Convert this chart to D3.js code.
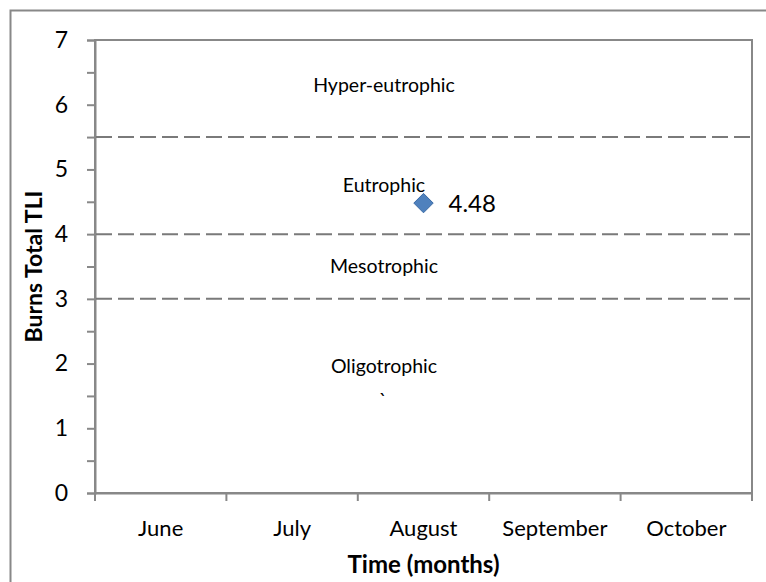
<!DOCTYPE html>
<html>
<head>
<meta charset="utf-8">
<script src="https://cdn.jsdelivr.net/npm/d3@7"></script>
<style>
  body { margin: 0; background: #fff; }
  text { font-family: Lato, "Open Sans", sans-serif; fill: #000; }
</style>
</head>
<body>
<script>
let months = ["June", "July", "August", "September", "October"]
let tliMonths = ["August"]
let tliValues = [4.48]
let bands = [5.5, 4, 3]
let bandNames = ["Hyper-eutrophic", "Eutrophic", "Mesotrophic", "Oligotrophic"]
let bandLabelY = [6.2, 4.65, 3.4, 1.85]

let svg = d3.select("body")
    .append("svg")
    .attr("width", 766)
    .attr("height", 582)

// outer chart border (right and bottom fall off the picture)
svg.append("rect")
    .attr("x", 10.5).attr("y", 10.5)
    .attr("width", 800).attr("height", 600)
    .attr("fill", "none")
    .attr("stroke", "#888").attr("stroke-width", 2)

let plotL = 95, plotR = 752, plotT = 40, plotB = 493

let x = d3.scaleBand().domain(months).range([plotL, plotR])
let y = d3.scaleLinear().domain([0, 7]).range([plotB, plotT])

// plot frame
svg.append("rect")
    .attr("x", plotL).attr("y", plotT)
    .attr("width", plotR - plotL).attr("height", plotB - plotT)
    .attr("fill", "none")
    .attr("stroke", "#888").attr("stroke-width", 2)

// y axis
let yAxis = svg.append("g")
    .attr("transform", `translate(${plotL},0)`)
    .call(d3.axisLeft(y).tickValues(d3.range(0, 7.01, 0.5)).tickSize(8).tickPadding(19)
        .tickFormat(d => Number.isInteger(d) ? d : ""))
yAxis.select(".domain").attr("stroke", "#888").attr("stroke-width", 2)
yAxis.selectAll(".tick line").attr("stroke", "#888").attr("stroke-width", 2)
yAxis.selectAll(".tick text").style("font-size", "23px").attr("fill", "#000")

// x axis
let xAxis = svg.append("g")
    .attr("transform", `translate(0,${plotB})`)
    .call(d3.axisBottom(x).tickSize(0).tickPadding(27))
xAxis.select(".domain").attr("stroke", "#888").attr("stroke-width", 2)
xAxis.selectAll(".tick text").style("font-size", "22px").attr("fill", "#000")

// category boundary ticks
let edges = months.map(m => x(m)).concat([x(months[months.length - 1]) + x.bandwidth()])
svg.selectAll(".xtick")
    .data(edges)
    .enter()
    .append("line")
    .attr("x1", d => d).attr("x2", d => d)
    .attr("y1", plotB).attr("y2", plotB + 8)
    .attr("stroke", "#888").attr("stroke-width", 2)

// dashed trophic boundaries
svg.selectAll(".band")
    .data(bands)
    .enter()
    .append("line")
    .attr("x1", plotL + 1).attr("x2", plotR)
    .attr("y1", d => y(d)).attr("y2", d => y(d))
    .attr("stroke", "#7a7a7a").attr("stroke-width", 2)
    .attr("stroke-dasharray", "16,6")

// band names
svg.selectAll(".bandname")
    .data(bandNames)
    .enter()
    .append("text")
    .attr("x", 384)
    .attr("y", (d, i) => y(bandLabelY[i]))
    .attr("text-anchor", "middle")
    .style("font-size", "19.5px")
    .text(d => d)

svg.append("text")
    .attr("x", 383).attr("y", y(1.33))
    .attr("text-anchor", "middle")
    .style("font-size", "19.5px")
    .text("`")

// data point
let diamond = d3.symbol().type(d3.symbolDiamond2).size(240)
svg.selectAll(".pt")
    .data(tliValues)
    .enter()
    .append("path")
    .attr("d", diamond)
    .attr("transform", (d, i) => `translate(${x(tliMonths[i]) + x.bandwidth() / 2},${y(d)})`)
    .attr("fill", "#4f81bd")
    .attr("stroke", "#3a6aa5").attr("stroke-width", 1)

svg.selectAll(".ptlabel")
    .data(tliValues)
    .enter()
    .append("text")
    .attr("x", (d, i) => x(tliMonths[i]) + x.bandwidth() / 2 + 25)
    .attr("y", d => y(d) + 9)
    .style("font-size", "24px")
    .text(d => d.toFixed(2))

// axis titles
svg.append("text")
    .attr("transform", `translate(42,${(plotT + plotB) / 2}) rotate(-90)`)
    .attr("text-anchor", "middle")
    .style("font-size", "23px").style("font-weight", "bold")
    .text("Burns Total TLI")

svg.append("text")
    .attr("x", (plotL + plotR) / 2).attr("y", 573)
    .attr("text-anchor", "middle")
    .style("font-size", "24px").style("font-weight", "bold")
    .text("Time (months)")
</script>
</body>
</html>
